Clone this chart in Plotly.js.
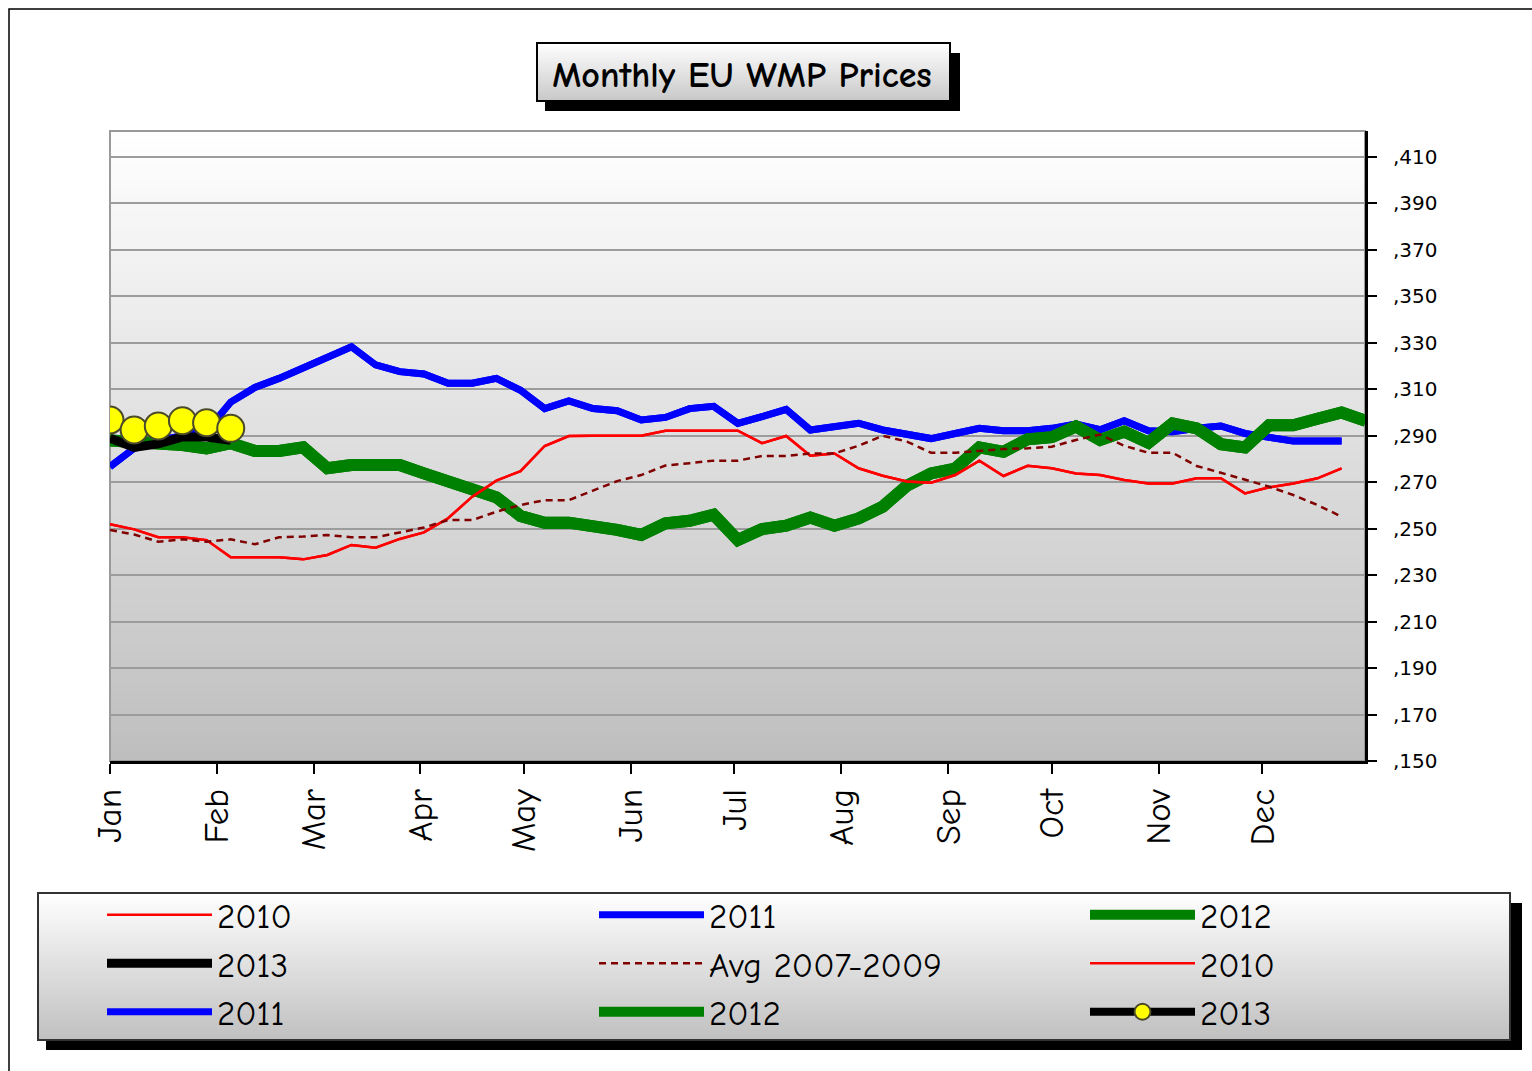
<!DOCTYPE html>
<html>
<head>
<meta charset="utf-8">
<script src="https://cdn.plot.ly/plotly-3.0.1.min.js"></script>
<style>
html,body{margin:0;padding:0;background:#ffffff;}
#chart{width:1532px;height:1071px;}
</style>
</head>
<body>
<div id="chart"></div>
<script>
// ---------- DATA ----------
const monthLabels = ['Jan','Feb','Mar','Apr','May','Jun','Jul','Aug','Sep','Oct','Nov','Dec'];
const monthStartDay = [0,31,59,90,120,151,181,212,243,273,304,334];
const priceTicks = [150,170,190,210,230,250,270,290,310,330,350,370,390,410];

const values2010 = [251.9,249.7,246.3,246.3,245.1,237.7,237.7,237.7,236.8,238.7,243,241.8,245.6,248.4,254.5,263.8,270.7,274.8,285.6,289.9,290,290,290,292.2,292.2,292.2,292.2,286.8,289.9,281.4,282.4,276,272.8,270.3,269.8,273.1,279.3,272.7,277.1,276,273.8,273.1,271,269.5,269.5,271.7,271.7,265.2,267.8,269.5,271.7,276];
const values2011 = [276.7,284.6,288,290.3,292,304.5,310.8,314.7,319,323.3,328.3,320.5,317.6,316.6,312.6,312.6,314.7,309.6,301.7,305,301.7,300.8,296.8,297.9,301.7,302.7,295.3,298.2,301.4,292.5,293.6,295.4,292.5,291,288.8,291,293.2,292.2,292.2,293.2,295,292.6,296.5,292.2,291.7,293.2,294.2,291,289.3,287.7,287.7,287.7];
const values2012 = [288,287.5,287,286,284.6,286.8,283.5,283.5,285,276,277.4,277.4,277.4,273.8,270.6,267.3,263.5,255.5,252.6,252.6,251.5,249.5,247.3,252.3,253.4,256,245.1,249.8,251.3,254.8,251.3,254.4,259.5,268.5,273.8,275.9,285,283.1,288.5,289.4,294,288.2,291.8,287,295.3,293.2,286.4,285,294.5,294.5,297.3,300,296.4];
const values2013 = [296.8,292.5,294.2,296.5,295.6,293.2];
const values2013Line = [289,285,286.5,289.5,289.5,288];
const valuesAvg0709 = [249.4,247.5,244.4,245.4,244.4,245.4,243.3,246.3,246.6,247.3,246.3,246.3,248.4,250.5,253.7,253.7,257.3,260.2,262.3,262.3,266.4,270.5,273.1,277.2,278.2,279.3,279.3,281.3,281.3,282.4,282.4,285.7,290,287.5,282.7,282.7,283.5,284.3,284.6,285.3,288.2,290.5,285.7,282.7,282.7,277,274.1,271,268.1,264.5,260.2,255.2];

// ---------- LAYOUT HELPERS ----------
const W = 1532, H = 1071;
const PL = 110, PR = 1365, PT = 131, PB = 761;
const pw = PR - PL, ph = PB - PT;
const px = x => (x - PL) / pw;
const py = y => (PB - y) / ph;
const weeks = arr => arr.map((_, i) => i);

const COMIC = "'Comic Sans MS', 'Comic Neue', 'Liberation Sans', sans-serif";

// each band runs from its own top to the bottom of the box, so later bands
// cover earlier ones and no seams can appear
function gradientBands(x0, y0, x1, y1, top, bottom, n) {
  const out = [];
  for (let i = 0; i < n; i++) {
    const t = (i + 0.5) / n;
    const c = Math.round(top + (bottom - top) * t);
    const ya = y0 + (y1 - y0) * i / n;
    out.push({type:'rect', xref:'paper', yref:'paper', layer:'below',
      x0: px(x0), x1: px(x1), y0: py(ya), y1: py(y1),
      fillcolor: `rgb(${c},${c},${c})`, line:{width:0}});
  }
  return out;
}
function rect(x0, y0, x1, y1, fill, lineColor, lineW) {
  return {type:'rect', xref:'paper', yref:'paper', layer:'below',
    x0: px(x0), x1: px(x1), y0: py(y0), y1: py(y1),
    fillcolor: fill, line:{color: lineColor || 'rgba(0,0,0,0)', width: lineW || 0}};
}

const shapes = [];
// outer chart border
shapes.push(rect(9, 9, 1545, 1085, 'rgba(0,0,0,0)', '#000000', 1.5));
// plot area gradient
shapes.push(...gradientBands(PL, PT, PR, PB, 255, 190, 80));
shapes.push(rect(PL, PT, PR, PB, 'rgba(0,0,0,0)', '#9a9a9a', 2));
// title box
shapes.push(rect(545, 53, 960, 111, '#000000'));
shapes.push(...gradientBands(537, 43, 950, 101, 255, 200, 20));
shapes.push(rect(537, 43, 950, 101, 'rgba(0,0,0,0)', '#000000', 2));
// legend box
shapes.push(rect(46, 903, 1522, 1050, '#000000'));
shapes.push(...gradientBands(38, 893, 1510, 1040, 255, 192, 40));
shapes.push(rect(38, 893, 1510, 1040, 'rgba(0,0,0,0)', '#333333', 2));

// ---------- TRACES ----------
function line(name, y, color, width, legend, rank, extra) {
  return Object.assign({
    type:'scatter', mode:'lines', name: name,
    x: weeks(y), y: y,
    line:{color: color, width: width},
    legend: legend, legendrank: rank, hoverinfo:'skip'
  }, extra || {});
}

const traces = [
  line('2011', values2011, '#0000ff', 7, 'legend2', 1),
  line('2011', values2011, '#0000ff', 7, 'legend', 3),
  line('2012', values2012, '#008000', 12, 'legend3', 1),
  line('2012', values2012, '#008000', 12, 'legend2', 3),
  line('2010', values2010, '#ff0000', 2.5, 'legend', 1),
  line('2010', values2010, '#ff0000', 2.5, 'legend3', 2),
  line('Avg 2007-2009', valuesAvg0709, '#800000', 2.5, 'legend2', 2, {line:{color:'#800000', width:2.5, dash:'7px,5px'}}),
  line('2013', values2013Line, '#000000', 9, 'legend', 2),
  line('2013', values2013, '#000000', 8, 'legend3', 3, {
    mode:'lines+markers',
    marker:{color:'#ffff00', size:27, line:{color:'#4a4a2a', width:2}}
  })
];

const legendBase = {
  xref:'container', yref:'container', xanchor:'left', yanchor:'top',
  y: 1 - 885.5/H, bgcolor:'rgba(0,0,0,0)', borderwidth:0,
  itemwidth:105, traceorder:'normal', tracegroupgap:0,
  font:{family: COMIC, size:35, color:'#000000'},
  itemclick:false, itemdoubleclick:false
};

const layout = {
  width: W, height: H, autosize:false,
  margin:{l:PL, r:W-PR, t:PT, b:H-PB, autoexpand:false},
  paper_bgcolor:'#ffffff', plot_bgcolor:'rgba(0,0,0,0)',
  title:{
    text:'Monthly EU WMP Prices',
    font:{family: COMIC, size:36, color:'#000000', weight:'bold'},
    xref:'container', yref:'container', x: 742/W, xanchor:'center',
    y: 1 - 74/H, yanchor:'middle'
  },
  showlegend:true,
  legend: Object.assign({}, legendBase, {x: 102/W}),
  legend2: Object.assign({}, legendBase, {x: 594/W}),
  legend3: Object.assign({}, legendBase, {x: 1085/W}),
  xaxis:{
    range:[0, 51.97], tickvals: monthStartDay.map(d => d / 7), ticktext: monthLabels,
    tickangle:-90, showgrid:false, zeroline:false,
    showline:true, linecolor:'#000000', linewidth:3,
    ticks:'outside', ticklen:10, tickwidth:2, tickcolor:'#000000',
    tickfont:{family: COMIC, size:35, color:'#000000'},
    ticklabelstandoff:1, fixedrange:true
  },
  yaxis:{
    side:'right', range:[150, 421.2],
    tickvals: priceTicks, ticktext: priceTicks.map(v => ',' + v),
    showgrid:true, gridcolor:'#9c9c9c', gridwidth:2, zeroline:false,
    showline:true, linecolor:'#000000', linewidth:3,
    ticks:'outside', ticklen:9, tickwidth:2, tickcolor:'#000000',
    tickfont:{family:"'DejaVu Sans', Verdana, sans-serif", size:20, color:'#000000'},
    ticklabelstandoff:12, fixedrange:true
  },
  shapes: shapes
};

Plotly.newPlot('chart', traces, layout, {displayModeBar:false, staticPlot:true});
</script>
</body>
</html>
